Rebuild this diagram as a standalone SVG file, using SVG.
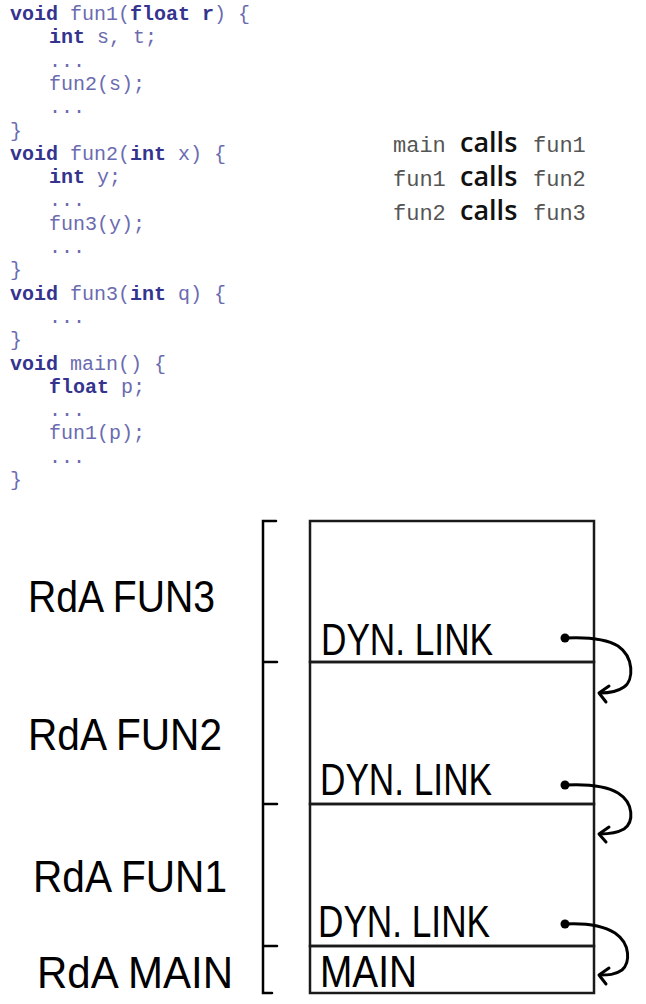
<svg xmlns="http://www.w3.org/2000/svg" width="646" height="1004" viewBox="0 0 646 1004">
<style>
.code{font-family:"Liberation Mono","Courier New",monospace;font-size:20px;fill:#6b6bb0;white-space:pre}
.kw{font-weight:bold;fill:#34348f}
.mono{font-family:"Liberation Mono","Courier New",monospace;font-size:22px;fill:#555555}
.calls{font-family:"Open Sans","Noto Sans",sans-serif;font-size:27px;font-weight:600;fill:#111111}
.hand{font-family:"Liberation Sans",Arial,sans-serif;font-size:44px;fill:#000000}
.box{fill:none;stroke:#1a1a1a;stroke-width:2.5}
.br{fill:none;stroke:#000000;stroke-width:2.5;stroke-linecap:round}
.arr{fill:none;stroke:#000000;stroke-width:3;stroke-linecap:round;stroke-linejoin:round}
</style>
<rect width="646" height="1004" fill="#ffffff"/>
<g id="code" class="code" xml:space="preserve">
<text x="10" y="20"><tspan class="kw">void</tspan> fun1(<tspan class="kw">float r</tspan>) {</text>
<text x="49" y="43.3"><tspan class="kw">int</tspan> s, t;</text>
<text x="49" y="66.6">...</text>
<text x="49" y="89.9">fun2(s);</text>
<text x="49" y="113.2">...</text>
<text x="10" y="136.5">}</text>
<text x="10" y="159.8"><tspan class="kw">void</tspan> fun2(<tspan class="kw">int</tspan> x) {</text>
<text x="49" y="183.1"><tspan class="kw">int</tspan> y;</text>
<text x="49" y="206.4">...</text>
<text x="49" y="229.7">fun3(y);</text>
<text x="49" y="253">...</text>
<text x="10" y="276.3">}</text>
<text x="10" y="299.6"><tspan class="kw">void</tspan> fun3(<tspan class="kw">int</tspan> q) {</text>
<text x="49" y="322.9">...</text>
<text x="10" y="346.2">}</text>
<text x="10" y="369.5"><tspan class="kw">void</tspan> main() {</text>
<text x="49" y="392.8"><tspan class="kw">float</tspan> p;</text>
<text x="49" y="416.1">...</text>
<text x="49" y="439.4">fun1(p);</text>
<text x="49" y="462.7">...</text>
<text x="10" y="486">}</text>
</g>
<g id="calls">
<text y="152"><tspan class="mono" x="393">main</tspan><tspan class="calls" x="460">calls</tspan><tspan class="mono" x="533">fun1</tspan></text>
<text y="186"><tspan class="mono" x="393">fun1</tspan><tspan class="calls" x="460">calls</tspan><tspan class="mono" x="533">fun2</tspan></text>
<text y="220"><tspan class="mono" x="393">fun2</tspan><tspan class="calls" x="460">calls</tspan><tspan class="mono" x="533">fun3</tspan></text>
</g>
<g id="frame-fun3">
<rect class="box" x="310" y="521" width="284" height="141"/>
<text class="hand" x="321" y="655" textLength="172" lengthAdjust="spacingAndGlyphs">DYN. LINK</text>
</g>
<g id="frame-fun2">
<rect class="box" x="310" y="662" width="284" height="142"/>
<text class="hand" x="320" y="795" textLength="172" lengthAdjust="spacingAndGlyphs">DYN. LINK</text>
</g>
<g id="frame-fun1">
<rect class="box" x="310" y="804" width="284" height="142"/>
<text class="hand" x="318" y="937" textLength="172" lengthAdjust="spacingAndGlyphs">DYN. LINK</text>
</g>
<g id="frame-main">
<rect class="box" x="310" y="946" width="284" height="47"/>
<text class="hand" x="320" y="987" textLength="97" lengthAdjust="spacingAndGlyphs">MAIN</text>
</g>
<g id="labels">
<path class="br" d="M276,521 L263,521 L263,993 L272,993 M263,662 L277,662 M263,804 L277,804 M263,946 L277,946"/>
<text class="hand" x="28" y="612" textLength="187" lengthAdjust="spacingAndGlyphs">RdA FUN3</text>
<text class="hand" x="28" y="750" textLength="194" lengthAdjust="spacingAndGlyphs">RdA FUN2</text>
<text class="hand" x="33" y="892" textLength="194" lengthAdjust="spacingAndGlyphs">RdA FUN1</text>
<text class="hand" x="37" y="988" textLength="196" lengthAdjust="spacingAndGlyphs">RdA MAIN</text>
</g>
<g id="connectors">
<circle cx="565" cy="638" r="4.5" fill="#000"/>
<path class="arr" d="M565,638 C585,637 605,638 618,646 C634,657 634,680 624,687 C617,692 608,693 600,693"/>
<path class="arr" d="M609,686 L599,693 L606,702"/>
<circle cx="565" cy="785" r="4.5" fill="#000"/>
<path class="arr" d="M565,785 C585,784 605,785 618,793 C634,803 634,822 624,829 C617,833 608,834 600,834"/>
<path class="arr" d="M609,827 L599,834 L606,842"/>
<circle cx="565" cy="924" r="4.5" fill="#000"/>
<path class="arr" d="M565,924 C585,923 602,925 615,933 C631,944 630,963 622,970 C615,975 608,975 600,975"/>
<path class="arr" d="M609,968 L599,975 L606,984"/>
</g>
</svg>
